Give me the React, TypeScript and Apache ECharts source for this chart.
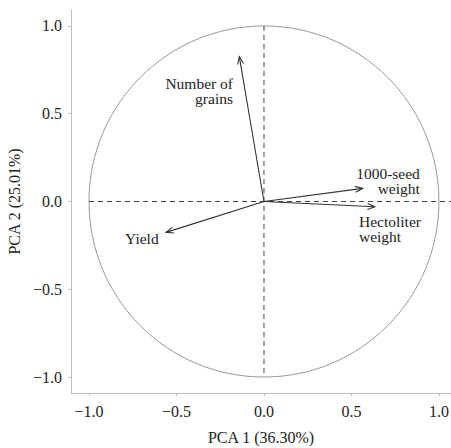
import React, { useEffect, useRef } from "react";
import * as echarts from "echarts";

const tickValues = [-1, -0.5, 0, 0.5, 1];
const variables = ["Number of grains", "1000-seed weight", "Hectoliter weight", "Yield"];
const pc1 = [-0.141, 0.564, 0.634, -0.56];
const pc2 = [0.825, 0.075, -0.03, -0.176];
const labelText = ["Number of\ngrains", "1000-seed\nweight", "Hectoliter\nweight", "Yield"];
const labelX = [-0.177, 0.891, 0.543, -0.794];
const labelY = [0.63, 0.117, -0.157, -0.208];
const labelAlign = ["right", "right", "left", "left"];
const refLines = [
  [0, 1, 0, -1],
  [-1, 0, 1.069, 0],
];
const xRange = [-1.103, 1.069];
const yRange = [-1.091, 1.091];

const FONT = "Liberation Serif, DejaVu Serif, serif";
const fmt = (v: number) => (v < 0 ? "\u2212" : "") + Math.abs(v).toFixed(1);

export default function App() {
  const ref = useRef<HTMLDivElement>(null);
  useEffect(() => {
    const chart = echarts.init(ref.current!, null, { renderer: "svg" });
    const axisCommon = {
      type: "value",
      splitLine: { show: false },
      axisLine: { show: true, onZero: false, lineStyle: { color: "#bdbdbd", width: 1 } },
      axisTick: { show: true, length: 3, customValues: tickValues, lineStyle: { color: "#bdbdbd" } },
      axisLabel: {
        customValues: tickValues,
        formatter: fmt,
        color: "#222",
        fontFamily: FONT,
        fontSize: 16,
      },
      nameLocation: "middle",
      nameTextStyle: { color: "#222", fontFamily: FONT, fontSize: 16 },
    };
    chart.setOption({
      animation: false,
      backgroundColor: "#fff",
      grid: { left: 71, right: 0, top: 10, bottom: 55, containLabel: false, outerBoundsMode: "none" },
      xAxis: {
        ...axisCommon,
        min: xRange[0],
        max: xRange[1],
        name: "PCA 1 (36.30%)",
        nameGap: 36,
        axisLabel: { ...axisCommon.axisLabel, margin: 10 },
      },
      yAxis: {
        ...axisCommon,
        min: yRange[0],
        max: yRange[1],
        name: "PCA 2 (25.01%)",
        nameGap: 42,
        axisLabel: { ...axisCommon.axisLabel, margin: 9 },
      },
      series: [
        {
          type: "custom",
          silent: true,
          data: [[0, 0]],
          renderItem: (params: any, api: any) => {
            const c = api.coord([0, 0]);
            const px = api.coord([1, 0]);
            const py = api.coord([0, 1]);
            return {
              type: "ellipse",
              shape: { cx: c[0], cy: c[1], rx: Math.abs(px[0] - c[0]), ry: Math.abs(c[1] - py[1]) },
              style: { fill: "none", stroke: "#9a9a9a", lineWidth: 1 },
            };
          },
        },
        {
          type: "custom",
          silent: true,
          data: refLines,
          renderItem: (params: any, api: any) => {
            const a = api.coord([api.value(0), api.value(1)]);
            const b = api.coord([api.value(2), api.value(3)]);
            return {
              type: "line",
              shape: { x1: a[0], y1: a[1], x2: b[0], y2: b[1] },
              style: { stroke: "#444", lineWidth: 1, lineDash: [5, 4] },
            };
          },
        },
        {
          type: "custom",
          silent: true,
          data: variables.map((n, i) => [pc1[i], pc2[i]]),
          renderItem: (params: any, api: any) => {
            const o = api.coord([0, 0]);
            const t = api.coord([api.value(0), api.value(1)]);
            const ang = Math.atan2(t[1] - o[1], t[0] - o[0]);
            const L = 8;
            const da = (22 * Math.PI) / 180;
            const p1 = [t[0] - L * Math.cos(ang - da), t[1] - L * Math.sin(ang - da)];
            const p2 = [t[0] - L * Math.cos(ang + da), t[1] - L * Math.sin(ang + da)];
            return {
              type: "group",
              children: [
                {
                  type: "line",
                  shape: { x1: o[0], y1: o[1], x2: t[0], y2: t[1] },
                  style: { stroke: "#333", lineWidth: 1.1 },
                },
                {
                  type: "polyline",
                  shape: { points: [p1, t, p2] },
                  style: { stroke: "#333", fill: "none", lineWidth: 1.1 },
                },
              ],
            };
          },
        },
        {
          type: "custom",
          silent: true,
          data: labelText.map((s, i) => [labelX[i], labelY[i], i]),
          renderItem: (params: any, api: any) => {
            const i = api.value(2);
            const p = api.coord([api.value(0), api.value(1)]);
            return {
              type: "text",
              x: p[0],
              y: p[1],
              style: {
                text: labelText[i],
                fill: "#222",
                fontFamily: FONT,
                fontSize: 15.5,
                align: labelAlign[i],
                verticalAlign: "middle",
                lineHeight: 15.5,
              },
            };
          },
        },
      ],
    });
    return () => chart.dispose();
  }, []);
  return (
    <div
      ref={ref}
      style={{ position: "fixed", left: 0, top: 0, width: 451, height: 448, background: "#fff" }}
    />
  );
}
